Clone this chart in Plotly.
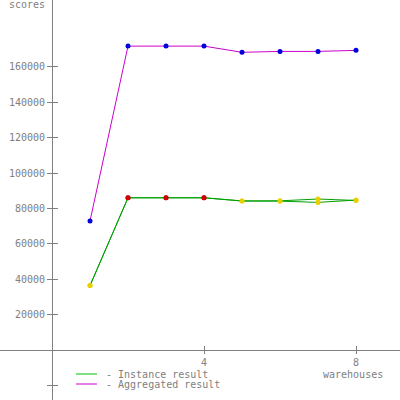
import plotly.graph_objects as go

warehouses = [1, 2, 3, 4, 5, 6, 7, 8]
aggregated = [72900, 171700, 171700, 171700, 168200, 168700, 168700, 169300]
instance_1 = [36400, 86000, 86000, 86000, 84200, 84300, 85300, 84500]
instance_2 = [36400, 86000, 86000, 86000, 84200, 84100, 83400, 84700]
instance_colors = ['#e8d000', '#d00000', '#d00000', '#d00000',
                   '#e8d000', '#e8d000', '#e8d000', '#e8d000']
ytick_vals = [-20000, 20000, 40000, 60000, 80000, 100000, 120000, 140000, 160000]
ytick_text = ['', '20000', '40000', '60000', '80000', '100000', '120000', '140000', '160000']
xtick_vals = [4, 8]
legend_names = ['- Instance result', '- Aggregated result']
legend_colors = ['#00c000', '#cc00cc']

gray = '#808080'
xr = [-52 / 38, 348 / 38]
yr = [-28250, 197750]

fig = go.Figure()
for inst in (instance_2, instance_1):
    fig.add_trace(go.Scatter(x=warehouses, y=inst, mode='lines+markers',
                             line=dict(color='#00a000', width=1),
                             marker=dict(color=instance_colors, size=5),
                             showlegend=False))
fig.add_trace(go.Scatter(x=warehouses, y=aggregated, mode='lines+markers',
                         line=dict(color='#cc00cc', width=1),
                         marker=dict(color='#0000dd', size=5),
                         showlegend=False))

axis_common = dict(showgrid=False, zeroline=False, showline=True, linecolor=gray,
                   linewidth=1, tickcolor=gray, tickfont=dict(color=gray, size=10,
                   family='DejaVu Sans Mono'))

# hand-drawn legend (compact, like the original)
shapes = []
annotations = []
for i, (name, col) in enumerate(zip(legend_names, legend_colors)):
    yy = 1 - (374 + 10 * i) / 400
    shapes.append(dict(type='line', xref='paper', yref='paper', x0=76 / 400, x1=97 / 400,
                       y0=yy, y1=yy, line=dict(color=col, width=1)))
    annotations.append(dict(text=name, x=104 / 400, y=yy, xref='paper', yref='paper',
                            xanchor='left', yanchor='middle', showarrow=False))

annotations += [
    dict(text='scores', x=47 / 400, y=1 - 5 / 400, xref='paper', yref='paper',
         xanchor='right', yanchor='middle', showarrow=False),
    dict(text='warehouses', x=353 / 400, y=1 - 374 / 400, xref='paper', yref='paper',
         xanchor='center', yanchor='middle', showarrow=False),
]

fig.update_layout(
    width=400, height=400,
    margin=dict(l=0, r=0, t=0, b=0),
    paper_bgcolor='white', plot_bgcolor='white',
    showlegend=False,
    font=dict(family='DejaVu Sans Mono', size=10, color=gray),
    xaxis=dict(range=xr, anchor='free', position=50 / 400, tickvals=xtick_vals,
               ticks='outside', ticklen=3, **axis_common),
    yaxis=dict(range=yr, anchor='free', position=52 / 400, tickvals=ytick_vals,
               ticktext=ytick_text, ticks='outside', ticklen=5, **axis_common),
    xaxis2=dict(range=xr, overlaying='x', anchor='free', position=50 / 400,
                tickvals=xtick_vals, ticks='inside', ticklen=4, showticklabels=False,
                showgrid=False, zeroline=False, showline=False, tickcolor=gray),
    yaxis2=dict(range=yr, overlaying='y', anchor='free', position=52 / 400,
                tickvals=ytick_vals, ticks='inside', ticklen=5, showticklabels=False,
                showgrid=False, zeroline=False, showline=False, tickcolor=gray),
    shapes=shapes,
    annotations=annotations,
)
fig.add_trace(go.Scatter(x=[None], y=[None], xaxis='x2', yaxis='y2',
                         showlegend=False, hoverinfo='skip'))

fig.write_html("out.html", config={'displayModeBar': False},
               post_script="document.body.style.margin='0px';")
